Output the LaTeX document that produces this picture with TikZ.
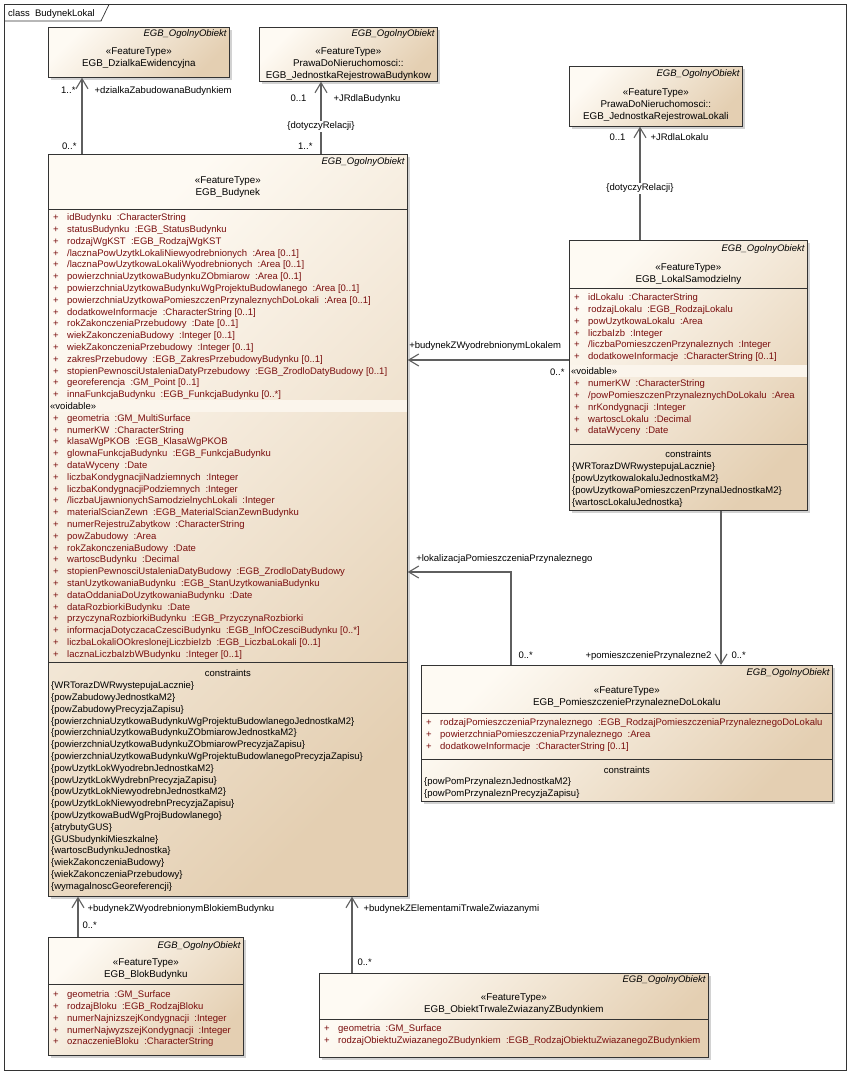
\documentclass[tikz,border=0pt]{standalone}
\usepackage{fontspec}
\setmainfont{Liberation Sans}
\usetikzlibrary{arrows.meta,positioning,shadows,calc}
\definecolor{clslight}{RGB}{254,250,243}
\definecolor{clsdark}{RGB}{228,207,178}
\definecolor{attrred}{RGB}{122,14,14}
\definecolor{assocgray}{RGB}{95,95,95}
\definecolor{voidband}{RGB}{251,245,236}
\newcommand{\attplus}{\makebox[14pt][l]{+}}
\newcommand{\voidrow}{{\color{black}\hspace{-3pt}«voidable»}}

\begin{document}
\begin{tikzpicture}[x=1pt, y=-1pt,
    cls/.style={rectangle, draw=black!80, line width=0.7pt, top color=clslight, bottom color=clsdark,
                shading angle=45, anchor=north west, inner sep=0pt,
                drop shadow={shadow xshift=2.5pt, shadow yshift=-2.5pt, fill=black!35}},
    absname/.style={anchor=east, inner sep=0pt, font=\fontsize{9.5}{11.8}\selectfont\itshape},
    stereo/.style={anchor=north, inner sep=0pt, align=center, font=\fontsize{9.8}{11.8}\selectfont},
    attrs/.style={anchor=north west, inner sep=0pt, align=left, text=attrred, font=\fontsize{9.5}{11.8}\selectfont},
    cons/.style={anchor=north west, inner sep=0pt, align=left, font=\fontsize{9.5}{11.8}\selectfont},
    constitle/.style={inner sep=0pt, font=\fontsize{9.5}{11.8}\selectfont},
    compsep/.style={draw=black!80, line width=0.7pt},
    assoc/.style={draw=assocgray, line width=1.1pt, -{Straight Barb[length=10pt,width=12pt]}},
    lbl/.style={inner sep=0pt, font=\fontsize{9.5}{11.8}\selectfont}
]
\useasboundingbox (0,0) rectangle (851,1076);

% frame
\draw[black!80, line width=0.7pt] (4.5,4.5) rectangle (846,1070);
\draw[black!80, line width=0.7pt] (4.5,21) -- (101,21) -- (109,4.5);
\node[lbl, anchor=base west] (frametitle) at (8,16.5) {class\ \ BudynekLokal};

% classes
\node[cls, minimum width=181pt, minimum height=50pt] (dzialka) at (48,27) {};
\node[absname] (dzialka-abs) at ($(dzialka.north east)+(-3,7)$) {EGB\_OgolnyObiekt};
\node[stereo] (dzialka-head) at ($(dzialka.north)+(0,20.6)$) {«FeatureType»\\EGB\_DzialkaEwidencyjna};

\node[cls, minimum width=178pt, minimum height=54pt] (jrbud) at (259,27) {};
\node[absname] (jrbud-abs) at ($(jrbud.north east)+(-3,7)$) {EGB\_OgolnyObiekt};
\node[stereo] (jrbud-head) at ($(jrbud.north)+(0,20.6)$) {«FeatureType»\\PrawaDoNieruchomosci::\\EGB\_JednostkaRejestrowaBudynkow};

\node[cls, minimum width=173pt, minimum height=60pt] (jrlok) at (569,66) {};
\node[absname] (jrlok-abs) at ($(jrlok.north east)+(-3,8)$) {EGB\_OgolnyObiekt};
\node[stereo] (jrlok-head) at ($(jrlok.north)+(0,22.6)$) {«FeatureType»\\PrawaDoNieruchomosci::\\EGB\_JednostkaRejestrowaLokali};

% EGB_Budynek
\node[cls, minimum width=359pt, minimum height=742pt] (budynek) at (48,154) {};
\node[absname] (budynek-abs) at ($(budynek.north east)+(-3,8)$) {EGB\_OgolnyObiekt};
\node[stereo] (budynek-head) at ($(budynek.north)+(0,23)$) {«FeatureType»\\EGB\_Budynek};
\draw[compsep] ($(budynek.north west)+(0,55)$) -- ($(budynek.north east)+(0,55)$);
\fill[voidband] ($(budynek.north west)+(0.6,245.5)$) rectangle ($(budynek.north east)+(-0.6,257.5)$);
\node[attrs] (budynek-attr) at ($(budynek.north west)+(5,59.6)$) {%
\attplus idBudynku\ \ :CharacterString\\
\attplus statusBudynku\ \ :EGB\_StatusBudynku\\
\attplus rodzajWgKST\ \ :EGB\_RodzajWgKST\\
\attplus /lacznaPowUzytkLokaliNiewyodrebnionych\ \ :Area [0..1]\\
\attplus /lacznaPowUzytkowaLokaliWyodrebnionych\ \ :Area [0..1]\\
\attplus powierzchniaUzytkowaBudynkuZObmiarow\ \ :Area [0..1]\\
\attplus powierzchniaUzytkowaBudynkuWgProjektuBudowlanego\ \ :Area [0..1]\\
\attplus powierzchniaUzytkowaPomieszczenPrzynaleznychDoLokali\ \ :Area [0..1]\\
\attplus dodatkoweInformacje\ \ :CharacterString [0..1]\\
\attplus rokZakonczeniaPrzebudowy\ \ :Date [0..1]\\
\attplus wiekZakonczeniaBudowy\ \ :Integer [0..1]\\
\attplus wiekZakonczeniaPrzebudowy\ \ :Integer [0..1]\\
\attplus zakresPrzebudowy\ \ :EGB\_ZakresPrzebudowyBudynku [0..1]\\
\attplus stopienPewnosciUstaleniaDatyPrzebudowy\ \ :EGB\_ZrodloDatyBudowy [0..1]\\
\attplus georeferencja\ \ :GM\_Point [0..1]\\
\attplus innaFunkcjaBudynku\ \ :EGB\_FunkcjaBudynku [0..*]\\
\voidrow\\
\attplus geometria\ \ :GM\_MultiSurface\\
\attplus numerKW\ \ :CharacterString\\
\attplus klasaWgPKOB\ \ :EGB\_KlasaWgPKOB\\
\attplus glownaFunkcjaBudynku\ \ :EGB\_FunkcjaBudynku\\
\attplus dataWyceny\ \ :Date\\
\attplus liczbaKondygnacjiNadziemnych\ \ :Integer\\
\attplus liczbaKondygnacjiPodziemnych\ \ :Integer\\
\attplus /liczbaUjawnionychSamodzielnychLokali\ \ :Integer\\
\attplus materialScianZewn\ \ :EGB\_MaterialScianZewnBudynku\\
\attplus numerRejestruZabytkow\ \ :CharacterString\\
\attplus powZabudowy\ \ :Area\\
\attplus rokZakonczeniaBudowy\ \ :Date\\
\attplus wartoscBudynku\ \ :Decimal\\
\attplus stopienPewnosciUstaleniaDatyBudowy\ \ :EGB\_ZrodloDatyBudowy\\
\attplus stanUzytkowaniaBudynku\ \ :EGB\_StanUzytkowaniaBudynku\\
\attplus dataOddaniaDoUzytkowaniaBudynku\ \ :Date\\
\attplus dataRozbiorkiBudynku\ \ :Date\\
\attplus przyczynaRozbiorkiBudynku\ \ :EGB\_PrzyczynaRozbiorki\\
\attplus informacjaDotyczacaCzesciBudynku\ \ :EGB\_InfOCzesciBudynku [0..*]\\
\attplus liczbaLokaliOOkreslonejLiczbieIzb\ \ :EGB\_LiczbaLokali [0..1]\\
\attplus lacznaLiczbaIzbWBudynku\ \ :Integer [0..1]};
\draw[compsep] ($(budynek.north west)+(0,508)$) -- ($(budynek.north east)+(0,508)$);
\node[constitle] (budynek-ct) at ($(budynek.north)+(0,519)$) {constraints};
\node[cons] (budynek-cons) at ($(budynek.north west)+(3,527.6)$) {%
\{WRTorazDWRwystepujaLacznie\}\\
\{powZabudowyJednostkaM2\}\\
\{powZabudowyPrecyzjaZapisu\}\\
\{powierzchniaUzytkowaBudynkuWgProjektuBudowlanegoJednostkaM2\}\\
\{powierzchniaUzytkowaBudynkuZObmiarowJednostkaM2\}\\
\{powierzchniaUzytkowaBudynkuZObmiarowPrecyzjaZapisu\}\\
\{powierzchniaUzytkowaBudynkuWgProjektuBudowlanegoPrecyzjaZapisu\}\\
\{powUzytkLokWyodrebnJednostkaM2\}\\
\{powUzytkLokWydrebnPrecyzjaZapisu\}\\
\{powUzytkLokNiewyodrebnJednostkaM2\}\\
\{powUzytkLokNiewyodrebnPrecyzjaZapisu\}\\
\{powUzytkowaBudWgProjBudowlanego\}\\
\{atrybutyGUS\}\\
\{GUSbudynkiMieszkalne\}\\
\{wartoscBudynkuJednostka\}\\
\{wiekZakonczeniaBudowy\}\\
\{wiekZakonczeniaPrzebudowy\}\\
\{wymagalnoscGeoreferencji\}};

% EGB_LokalSamodzielny
\node[cls, minimum width=238pt, minimum height=270pt] (lokal) at (569,240) {};
\node[absname] (lokal-abs) at ($(lokal.north east)+(-3,9)$) {EGB\_OgolnyObiekt};
\node[stereo] (lokal-head) at ($(lokal.north)+(0,23.5)$) {«FeatureType»\\EGB\_LokalSamodzielny};
\draw[compsep] ($(lokal.north west)+(0,48)$) -- ($(lokal.north east)+(0,48)$);
\fill[voidband] ($(lokal.north west)+(0.6,125.3)$) rectangle ($(lokal.north east)+(-0.6,137.3)$);
\node[attrs] (lokal-attr) at ($(lokal.north west)+(5,53.6)$) {%
\attplus idLokalu\ \ :CharacterString\\
\attplus rodzajLokalu\ \ :EGB\_RodzajLokalu\\
\attplus powUzytkowaLokalu\ \ :Area\\
\attplus liczbaIzb\ \ :Integer\\
\attplus /liczbaPomieszczenPrzynaleznych\ \ :Integer\\
\attplus dodatkoweInformacje\ \ :CharacterString [0..1]\\[3.5pt]
\voidrow\\
\attplus numerKW\ \ :CharacterString\\
\attplus /powPomieszczenPrzynaleznychDoLokalu\ \ :Area\\
\attplus nrKondygnacji\ \ :Integer\\
\attplus wartoscLokalu\ \ :Decimal\\
\attplus dataWyceny\ \ :Date};
\draw[compsep] ($(lokal.north west)+(0,204)$) -- ($(lokal.north east)+(0,204)$);
\node[constitle] (lokal-ct) at ($(lokal.north)+(0,214)$) {constraints};
\node[cons] (lokal-cons) at ($(lokal.north west)+(3,222.6)$) {%
\{WRTorazDWRwystepujaLacznie\}\\
\{powUzytkowalokaluJednostkaM2\}\\
\{powUzytkowaPomieszczenPrzynalJednostkaM2\}\\
\{wartoscLokaluJednostka\}};

% EGB_PomieszczeniePrzynalezneDoLokalu
\node[cls, minimum width=411pt, minimum height=136pt] (pomprz) at (421,665) {};
\node[absname] (pomprz-abs) at ($(pomprz.north east)+(-3,8)$) {EGB\_OgolnyObiekt};
\node[stereo] (pomprz-head) at ($(pomprz.north)+(0,21.5)$) {«FeatureType»\\EGB\_PomieszczeniePrzynalezneDoLokalu};
\draw[compsep] ($(pomprz.north west)+(0,48)$) -- ($(pomprz.north east)+(0,48)$);
\node[attrs] (pomprz-attr) at ($(pomprz.north west)+(5,53.6)$) {%
\attplus rodzajPomieszczeniaPrzynaleznego\ \ :EGB\_RodzajPomieszczeniaPrzynaleznegoDoLokalu\\
\attplus powierzchniaPomieszczeniaPrzynaleznego\ \ :Area\\
\attplus dodatkoweInformacje\ \ :CharacterString [0..1]};
\draw[compsep] ($(pomprz.north west)+(0,94)$) -- ($(pomprz.north east)+(0,94)$);
\node[constitle] (pomprz-ct) at ($(pomprz.north)+(0,105)$) {constraints};
\node[cons] (pomprz-cons) at ($(pomprz.north west)+(3,112.6)$) {%
\{powPomPrzynaleznJednostkaM2\}\\
\{powPomPrzynaleznPrecyzjaZapisu\}};

% EGB_BlokBudynku
\node[cls, minimum width=195pt, minimum height=118pt] (blok) at (48,937) {};
\node[absname] (blok-abs) at ($(blok.north east)+(-3,9)$) {EGB\_OgolnyObiekt};
\node[stereo] (blok-head) at ($(blok.north)+(0,21.5)$) {«FeatureType»\\EGB\_BlokBudynku};
\draw[compsep] ($(blok.north west)+(0,47)$) -- ($(blok.north east)+(0,47)$);
\node[attrs] (blok-attr) at ($(blok.north west)+(5,53.6)$) {%
\attplus geometria\ \ :GM\_Surface\\
\attplus rodzajBloku\ \ :EGB\_RodzajBloku\\
\attplus numerNajnizszejKondygnacji\ \ :Integer\\
\attplus numerNajwyzszejKondygnacji\ \ :Integer\\
\attplus oznaczenieBloku\ \ :CharacterString};

% EGB_ObiektTrwaleZwiazanyZBudynkiem
\node[cls, minimum width=389pt, minimum height=84pt] (obiekt) at (319,973) {};
\node[absname] (obiekt-abs) at ($(obiekt.north east)+(-3,7)$) {EGB\_OgolnyObiekt};
\node[stereo] (obiekt-head) at ($(obiekt.north)+(0,20.5)$) {«FeatureType»\\EGB\_ObiektTrwaleZwiazanyZBudynkiem};
\draw[compsep] ($(obiekt.north west)+(0,46)$) -- ($(obiekt.north east)+(0,46)$);
\node[attrs] (obiekt-attr) at ($(obiekt.north west)+(5,51.6)$) {%
\attplus geometria\ \ :GM\_Surface\\
\attplus rodzajObiektuZwiazanegoZBudynkiem\ \ :EGB\_RodzajObiektuZwiazanegoZBudynkiem};

% association ends
\coordinate (dzB) at ($(budynek.north west)+(34,0)$);
\coordinate (jbB) at ($(budynek.north west)+(273,0)$);
\coordinate (jlL) at ($(lokal.north west)+(71,0)$);
\coordinate (lkW) at ($(lokal.north west)+(0,120)$);
\coordinate (pmT) at ($(pomprz.north west)+(90,0)$);
\coordinate (pmC) at ($(pmT)+(0,-93)$);
\coordinate (lkS) at ($(lokal.south west)+(152,0)$);
\coordinate (blB) at ($(blok.north west)+(30,0)$);
\coordinate (obB) at ($(obiekt.north west)+(33,0)$);

% associations
\draw[assoc] (dzB) -- (dzB |- dzialka.south)
    node[lbl, at start, anchor=base east, xshift=-5pt, yshift=4.6pt] (dz-m1) {0..*}
    node[lbl, at end, anchor=base east, xshift=-6pt, yshift=-15.4pt] (dz-m2) {1..*}
    node[lbl, at end, anchor=base west, xshift=12pt, yshift=-15.4pt] (dz-r) {+dzialkaZabudowanaBudynkiem};
\draw[assoc] (jbB) -- (jbB |- jrbud.south)
    node[lbl, at start, anchor=base east, xshift=-8pt, yshift=4.6pt] (jb-m1) {1..*}
    node[lbl, pos=0.384, fill=white, inner sep=1pt] (jb-c) {\{dotyczyRelacji\}}
    node[lbl, at end, anchor=base east, xshift=-14pt, yshift=-19.4pt] (jb-m2) {0..1}
    node[lbl, at end, anchor=base west, xshift=12pt, yshift=-19.4pt] (jb-r) {+JRdlaBudynku};
\draw[assoc] (jlL) -- (jlL |- jrlok.south)
    node[lbl, pos=0.456, fill=white, inner sep=1pt] (jl-c) {\{dotyczyRelacji\}}
    node[lbl, at end, anchor=base east, xshift=-14pt, yshift=-13.4pt] (jl-m2) {0..1}
    node[lbl, at end, anchor=base west, xshift=10pt, yshift=-13.4pt] (jl-r) {+JRdlaLokalu};
\draw[assoc] (lkW) -- (lkW -| budynek.east)
    node[lbl, at start, anchor=base east, xshift=-4pt, yshift=-15.4pt] (lk-m1) {0..*}
    node[lbl, at end, anchor=base west, xshift=1pt, yshift=11.6pt] (lk-r) {+budynekZWyodrebnionymLokalem};
\draw[assoc] (pmT) -- node[lbl, at start, anchor=base west, xshift=7pt, yshift=6.6pt] (pm-m1) {0..*}
    (pmC) -- (pmC -| budynek.east)
    node[lbl, at end, anchor=base west, xshift=8pt, yshift=10.6pt] (pm-r) {+lokalizacjaPomieszczeniaPrzynaleznego};
\draw[assoc] (lkS) -- (lkS |- pomprz.north)
    node[lbl, at end, anchor=base east, xshift=-9pt, yshift=6.6pt] (lp-r) {+pomieszczeniePrzynalezne2}
    node[lbl, at end, anchor=base west, xshift=10pt, yshift=6.6pt] (lp-m2) {0..*};
\draw[assoc] (blB) -- (blB |- budynek.south)
    node[lbl, at start, anchor=base west, xshift=4pt, yshift=8.6pt] (bl-m1) {0..*}
    node[lbl, at end, anchor=base west, xshift=9pt, yshift=-14.4pt] (bl-r) {+budynekZWyodrebnionymBlokiemBudynku};
\draw[assoc] (obB) -- (obB |- budynek.south)
    node[lbl, at start, anchor=base west, xshift=5pt, yshift=7.6pt] (ob-m1) {0..*}
    node[lbl, at end, anchor=base west, xshift=11pt, yshift=-14.4pt] (ob-r) {+budynekZElementamiTrwaleZwiazanymi};
\end{tikzpicture}
\end{document}
